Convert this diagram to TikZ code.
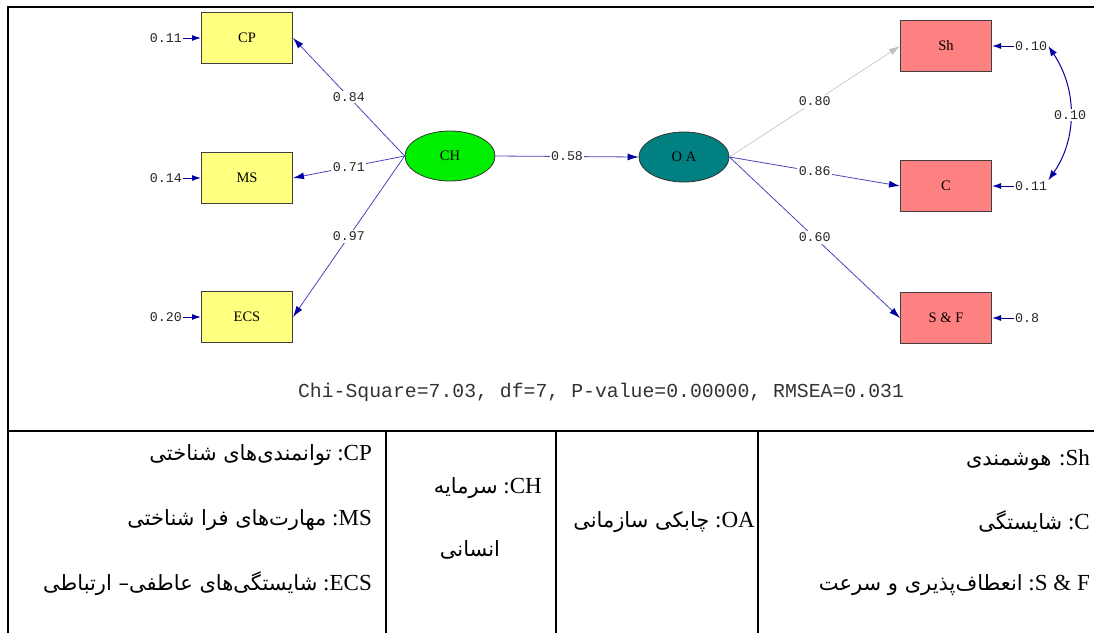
\documentclass[tikz,border=0pt]{standalone}
\usepackage{fontspec}
\setmainfont{Liberation Serif}
\newfontfamily\monofont{Liberation Mono}
\newfontfamily\arabicfont[Script=Arabic]{DejaVu Sans}
\usetikzlibrary{positioning,arrows.meta,shapes.geometric}
\TeXXeTstate=1
\definecolor{linkblue}{RGB}{70,70,190}
\definecolor{tipblue}{RGB}{0,0,160}
\definecolor{boxyellow}{RGB}{255,255,128}
\definecolor{boxpink}{RGB}{255,128,128}
\definecolor{chgreen}{RGB}{0,238,0}
\definecolor{oateal}{RGB}{0,128,128}
\newcommand{\fa}{\arabicfont\fontsize{21}{21}\selectfont}
\begin{document}
\begin{tikzpicture}[x=1pt,y=-1pt,
	obs/.style={draw=black!75,line width=1pt,minimum width=91pt,minimum height=51pt,inner sep=0pt,font=\fontsize{14.5}{14.5}\selectfont},
	lat/.style={ellipse,draw=black!80,line width=0.8pt,minimum width=90pt,minimum height=50pt,inner sep=0pt,font=\fontsize{14.5}{14.5}\selectfont},
	link/.style={linkblue,line width=0.8pt,-{Latex[color=tipblue,length=11pt,width=7pt]}},
	errlink/.style={tipblue,line width=1pt,-{Latex[length=9pt,width=6pt]}},
	coef/.style={fill=white,inner sep=1.5pt,font=\monofont\fontsize{13.3}{13.3}\selectfont,text=black!85},
	err/.style={inner sep=1pt,font=\monofont\fontsize{13.3}{13.3}\selectfont,text=black!85},
	tab/.style={inner sep=0pt,font=\fontsize{23}{23}\selectfont}]
	\useasboundingbox (0,0) rectangle (1094,633);
	%frame
	\draw[line width=2pt] (1094,7) -- (8,7) -- (8,633);
	\draw[line width=1.6pt] (8,431) -- (1094,431);
	\foreach \x in {386,556,758}
	\draw[line width=1.2pt] (\x,431) -- (\x,633);
	%variables
	\node[obs,fill=boxyellow] (CP) at (247,38) {CP};
	\node[obs,fill=boxyellow] (MS) at (247,178) {MS};
	\node[obs,fill=boxyellow] (ECS) at (247,317) {ECS};
	\node[lat,fill=chgreen] (CH) at (450,156) {CH};
	\node[lat,fill=oateal] (OA) at (684,157) {O A};
	\node[obs,fill=boxpink] (Sh) at (946,46) {Sh};
	\node[obs,fill=boxpink] (C) at (946,186) {C};
	\node[obs,fill=boxpink] (SF) at (946,318) {S \& F};
	%loadings
	\draw[link] (CH.west) -- node[coef] {0.84} (CP.east);
	\draw[link] (CH.west) -- node[coef] {0.71} (MS.east);
	\draw[link] (CH.west) -- node[coef] {0.97} (ECS.east);
	\draw[link] (CH.east) -- node[coef] {0.58} (OA.west);
	\draw[link,black!20,-{Latex[color=black!25,length=11pt,width=7pt]}] (OA.east) -- node[coef] {0.80} (Sh.west);
	\draw[link] (OA.east) -- node[coef] {0.86} (C.west);
	\draw[link] (OA.east) -- node[coef] {0.60} (SF.west);
	%errors
	\foreach \n/\v in {CP/0.11,MS/0.14,ECS/0.20}{
		\node[err,left=18pt of \n] (e\n) {\v};
		\draw[errlink] (e\n) -- (\n);
	}
	\foreach \n/\v in {Sh/0.10,C/0.11,SF/0.8}{
		\node[err,right=22pt of \n] (e\n) {\v};
		\draw[errlink] (e\n) -- (\n);
	}
	\draw[tipblue,line width=1pt,{Latex[length=10pt,width=7pt]}-{Latex[length=10pt,width=7pt]}]
	(eSh.east) .. controls +(30,45) and +(28,-40) .. node[coef] {0.10} (eC.north east);
	%fit
	\node[font=\monofont\fontsize{19.8}{19.8}\selectfont,text=black!80] (fit) at (601,392)
	{Chi-Square=7.03, df=7, P-value=0.00000, RMSEA=0.031};
	%legend
	\node[tab,anchor=east] (tCP) at (372,455) {\beginR\beginL CP\endL: {\fa توانمندی‌های شناختی}\endR};
	\node[tab,anchor=east] (tMS) at (372,520) {\beginR\beginL MS\endL: {\fa مهارت‌های فرا شناختی}\endR};
	\node[tab,anchor=east] (tECS) at (372,584) {\beginR\beginL ECS\endL: {\fa شایستگی‌های عاطفی– ارتباطی}\endR};
	\node[tab,anchor=east] (tCH) at (542,488) {\beginR\beginL CH\endL: {\fa سرمایه}\endR};
	\node[tab] (tCH2) at (470,550) {\fa\beginR انسانی\endR};
	\node[tab,anchor=east] (tOA) at (755,522) {\beginR\beginL OA\endL: {\fa چابکی سازمانی}\endR};
	\node[tab,anchor=east] (tSh) at (1090,460) {\beginR\beginL Sh\endL: {\fa هوشمندی}\endR};
	\node[tab,anchor=east] (tC) at (1090,522) {\beginR\beginL C\endL: {\fa شایستگی}\endR};
	\node[tab,anchor=east] (tSF) at (1090,585) {\beginR\beginL S \& F\endL: {\fa انعطاف‌پذیری و سرعت}\endR};
\end{tikzpicture}
\end{document}
